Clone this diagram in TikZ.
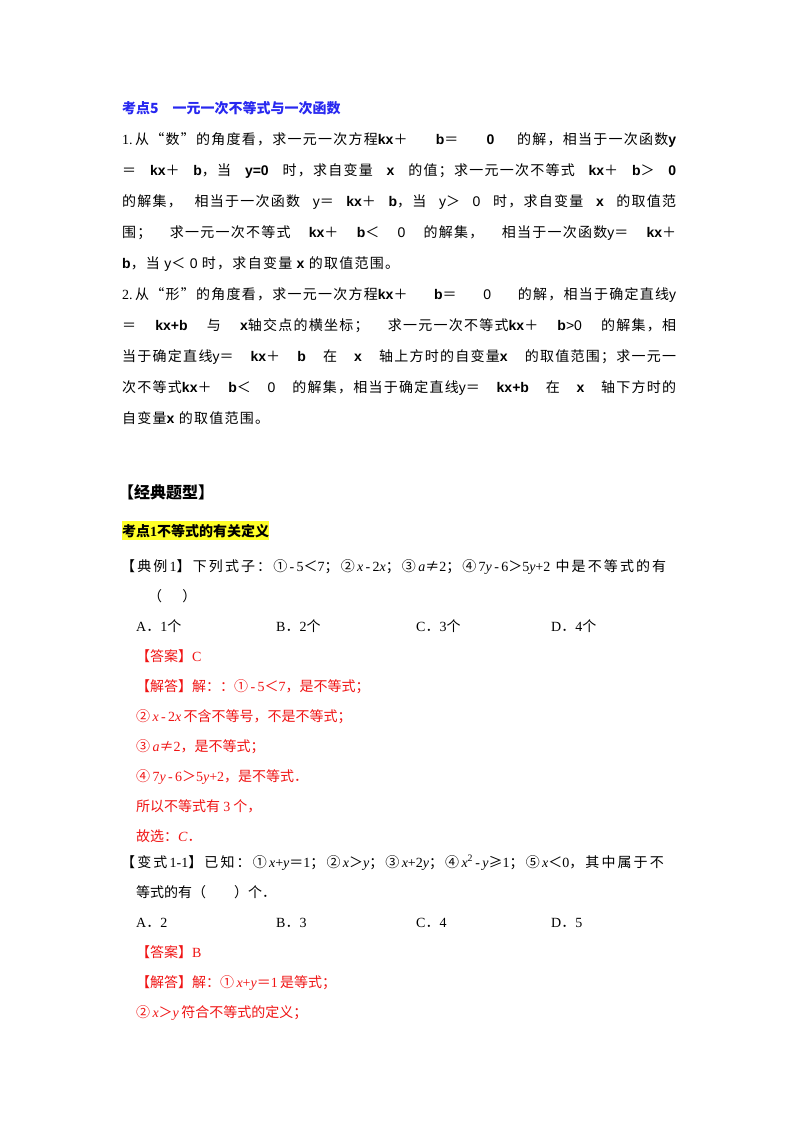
\documentclass[tikz,border=0pt]{standalone}
\usepackage{fontspec}
\setmainfont{Liberation Serif}
\newfontfamily\cjk{Noto Sans CJK SC}
\newfontfamily\cjkw[LetterSpace=9]{Noto Sans CJK SC}
\newfontfamily\cjkx[LetterSpace=15]{Noto Sans CJK SC}
\newfontfamily\hs{Liberation Sans}
\newcommand\zh[1]{{\cjk #1}}
\newcommand\bk[1]{{\hs\bfseries #1}}
\newcommand\sn[1]{{\hs #1}}
\newcommand\jl[2]{\makebox[#1][s]{#2}}
\definecolor{tblue}{RGB}{40,40,240}
\definecolor{tred}{RGB}{240,20,20}
\definecolor{hl}{RGB}{255,255,40}
\begin{document}
\begin{tikzpicture}[x=1pt,y=-1pt,
  ln/.style={anchor=base west,inner sep=0pt,font=\fontsize{14}{14}\selectfont},
  wd/.style={ln,font=\fontsize{14}{14}\selectfont\let\cjk\cjkw},
  xd/.style={ln,font=\fontsize{14}{14}\selectfont\let\cjk\cjkx},
  rd/.style={ln,text=tred}]
\fill[white] (0,0) rectangle (800,1132);
\node[ln,text=tblue] (t) at (122,113) {\zh{\bfseries 考点5\quad 一元一次不等式与一次函数}};
\node[wd] (l1) at (122,144) {\jl{554pt}{1.\,\zh{从“数”的角度看，求一元一次方程}\bk{kx}\zh{＋ }\bk{b}\zh{＝ }\bk{0} \zh{的解，相当于一次函数}\bk{y}}};
\node[wd] (l2) at (122,175) {\jl{554pt}{\zh{＝ }\bk{kx}\zh{＋ }\bk{b}\zh{，当 }\bk{y=0}\zh{ 时，求自变量 }\bk{x}\zh{ 的值；求一元一次不等式 }\bk{kx}\zh{＋ }\bk{b}\zh{＞ }\bk{0}}};
\node[wd] (l3) at (122,206) {\jl{554pt}{\zh{的解集， 相当于一次函数 }\sn{y}\zh{＝ }\bk{kx}\zh{＋ }\bk{b}\zh{，当 }\sn{y}\zh{＞ }\sn{0}\zh{ 时，求自变量 }\bk{x}\zh{ 的取值范}}};
\node[wd] (l4) at (122,237) {\jl{554pt}{\zh{围； 求一元一次不等式 }\bk{kx}\zh{＋ }\bk{b}\zh{＜ }\sn{0}\zh{ 的解集， 相当于一次函数}\sn{y}\zh{＝ }\bk{kx}\zh{＋}}};
\node[wd] (l5) at (122,268) {\bk{b}\zh{，当 }\sn{y}\zh{＜ }\sn{0}\zh{ 时，求自变量 }\bk{x}\zh{ 的取值范围。}};
\node[wd] (m1) at (122,299) {\jl{554pt}{2.\,\zh{从“形”的角度看，求一元一次方程}\bk{kx}\zh{＋ }\bk{b}\zh{＝ }\sn{0}\zh{ 的解，相当于确定直线}\sn{y}}};
\node[wd] (m2) at (122,330) {\jl{554pt}{\zh{＝ }\bk{kx+b}\zh{ 与 }\bk{x}\zh{轴交点的横坐标； 求一元一次不等式}\bk{kx}\zh{＋ }\bk{b}\sn{\textgreater0}\zh{ 的解集，相}}};
\node[wd] (m3) at (122,361) {\jl{554pt}{\zh{当于确定直线}\sn{y}\zh{＝ }\bk{kx}\zh{＋ }\bk{b}\zh{ 在 }\bk{x}\zh{ 轴上方时的自变量}\bk{x}\zh{ 的取值范围；求一元一}}};
\node[wd] (m4) at (122,392) {\jl{554pt}{\zh{次不等式}\bk{kx}\zh{＋ }\bk{b}\zh{＜ }\sn{0}\zh{ 的解集，相当于确定直线}\sn{y}\zh{＝ }\bk{kx+b}\zh{ 在 }\bk{x}\zh{ 轴下方时的}}};
\node[wd] (m5) at (122,423) {\zh{自变量}\bk{x}\zh{ 的取值范围。}};
\node[ln,font=\fontsize{16}{16}\selectfont] (h) at (118,498) {\zh{\bfseries 【经典题型】}};
\node[ln,fill=hl,inner ysep=3pt] (k1) at (122,536) {\zh{\bfseries 考点}\textbf{1}\zh{\bfseries 不等式的有关定义}};
\node[xd] (e1) at (121,571) {\zh{【典例}\,1\zh{】下列式子：①}\,-\,5\zh{＜}7\zh{；②}\,\textit{x}\,-\,2\textit{x}\zh{；③}\,\textit{a}\zh{≠}2\zh{；④}\,7\textit{y}\,-\,6\zh{＞}5\textit{y}+2\zh{ 中是不等式的有}};
\node[ln] (e2) at (148,601) {\zh{（\quad\ \ ）}};
\node[ln] (oa) at (136,631) {A\zh{．}1\zh{个}};
\node[ln] (ob) at (276,631) {B\zh{．}2\zh{个}};
\node[ln] (oc) at (416,631) {C\zh{．}3\zh{个}};
\node[ln] (od) at (551,631) {D\zh{．}4\zh{个}};
\node[rd] (a1) at (136,661) {\zh{【答案】}C};
\node[rd] (s1) at (136,691) {\zh{【解答】解：：①}\,-\,5\zh{＜}7\zh{，是不等式；}};
\node[rd] (s2) at (136,721) {\zh{②}\,\textit{x}\,-\,2\textit{x}\,\zh{不含不等号，不是不等式；}};
\node[rd] (s3) at (136,751) {\zh{③}\,\textit{a}\zh{≠}2\zh{，是不等式；}};
\node[rd] (s4) at (136,781) {\zh{④}\,7\textit{y}\,-\,6\zh{＞}5\textit{y}+2\zh{，是不等式．}};
\node[rd] (s5) at (136,811) {\zh{所以不等式有 }3\zh{ 个，}};
\node[rd] (s6) at (136,841) {\zh{故选：}\textit{C}\zh{．}};
\node[xd] (v1) at (121,867) {\zh{【变式}\,1-1\zh{】已知：①}\,\textit{x}+\textit{y}\zh{＝}1\zh{；②}\,\textit{x}\zh{＞}\textit{y}\zh{；③}\,\textit{x}+2\textit{y}\zh{；④}\,\textit{x}\textsuperscript{2}\,-\,\textit{y}\zh{≥}1\zh{；⑤}\,\textit{x}\zh{＜}0\zh{，其中属于不}};
\node[ln] (v2) at (136,897) {\zh{等式的有（\qquad ）个．}};
\node[ln] (pa) at (136,927) {A\zh{．}2};
\node[ln] (pb) at (276,927) {B\zh{．}3};
\node[ln] (pc) at (416,927) {C\zh{．}4};
\node[ln] (pd) at (551,927) {D\zh{．}5};
\node[rd] (a2) at (136,957) {\zh{【答案】}B};
\node[rd] (r1) at (136,987) {\zh{【解答】解：①}\,\textit{x}+\textit{y}\zh{＝}1\,\zh{是等式；}};
\node[rd] (r2) at (136,1017) {\zh{②}\,\textit{x}\zh{＞}\textit{y}\,\zh{符合不等式的定义；}};
\end{tikzpicture}
\end{document}
